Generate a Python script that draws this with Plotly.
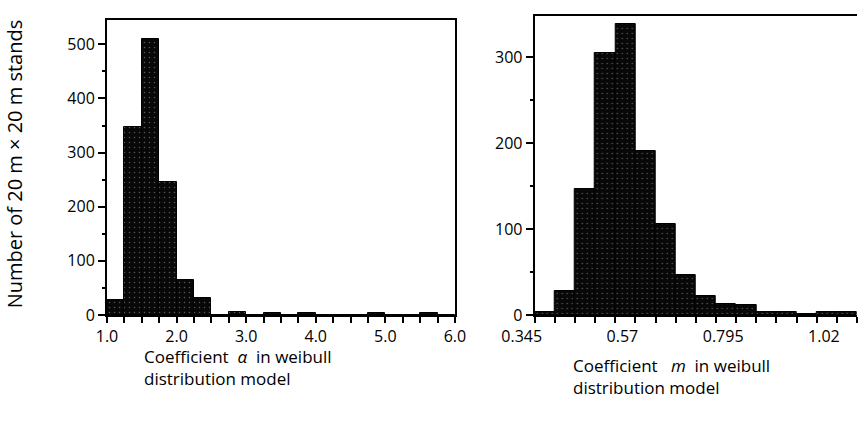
import plotly.graph_objects as go

# ---- data ----
alpha_bin_start = 1.0
alpha_bin_width = 0.25
alpha_counts = [28, 347, 510, 245, 65, 31, 0, 5, 0, 4, 0, 4, 0, 0, 0, 4, 0, 0, 4, 0]
alpha_tickvals = [1.0, 2.0, 3.0, 4.0, 5.0, 6.0]
alpha_ticktext = ["1.0", "2.0", "3.0", "4.0", "5.0", "6.0"]

m_bin_start = 0.345
m_bin_width = 0.045
m_counts = [3, 28, 147, 305, 339, 191, 106, 47, 22, 13, 12, 3, 3, 1, 4, 4]
m_tickvals = [0.345, 0.57, 0.795, 1.02]
m_ticktext = ["0.345", "0.57", "0.795", "1.02"]

y_title = "Number of 20 m × 20 m stands"

alpha_x = [alpha_bin_start + alpha_bin_width * (i + 0.5) for i in range(len(alpha_counts))]
m_x = [m_bin_start + m_bin_width * (i + 0.5) for i in range(len(m_counts))]

FONT = "Open Sans"
W, H = 868, 421
L, R, T, B = 107, 0, 16, 106
pw = W - L - R
ph = H - T - B

bar_marker = dict(
    color="#0b0b0b",
    line=dict(color="black", width=1),
    pattern=dict(shape=".", fgcolor="#aaaaaa", bgcolor="#080808", size=5, solidity=0.07),
)

fig = go.Figure()
fig.add_trace(go.Bar(x=alpha_x, y=alpha_counts, width=alpha_bin_width, marker=bar_marker,
                     xaxis="x", yaxis="y", showlegend=False))
fig.add_trace(go.Bar(x=m_x, y=m_counts, width=m_bin_width, marker=bar_marker,
                     xaxis="x2", yaxis="y2", showlegend=False))

left_end = (460 - L) / pw
right_start = (541 - L) / pw
left_top = (315 - 20) / ph

tickfont = dict(family=FONT, size=16, color="black")
axis_common = dict(showgrid=False, zeroline=False, showline=True, linecolor="black", linewidth=2,
                   ticks="outside", tickcolor="black", tickwidth=1.5, tickfont=tickfont)

fig.update_layout(
    width=W, height=H,
    margin=dict(l=L, r=R, t=T, b=B, pad=0),
    paper_bgcolor="white", plot_bgcolor="white",
    bargap=0,
    font=dict(family=FONT, color="black"),
    xaxis=dict(domain=[0, left_end], range=[1.0, 6.0], anchor="y", mirror=True,
               tickvals=alpha_tickvals, ticktext=alpha_ticktext, ticklen=6,
               minor=dict(dtick=0.25, tick0=1.0, ticks="outside", ticklen=6, tickcolor="black", tickwidth=1.5),
               **axis_common),
    yaxis=dict(domain=[0, left_top], range=[0, 545], anchor="x", mirror=True,
               dtick=100, ticklen=7,
               minor=dict(dtick=50, ticks="outside", ticklen=3, tickcolor="black", tickwidth=1.5),
               **axis_common),
    xaxis2=dict(domain=[right_start, 1.0], range=[0.345, 1.065], anchor="y2", mirror=True,
                tickvals=m_tickvals, ticktext=m_ticktext, ticklen=6, ticklabelshift=-13,
                minor=dict(dtick=0.045, tick0=0.345, ticks="outside", ticklen=6, tickcolor="black", tickwidth=1.5),
                **axis_common),
    yaxis2=dict(domain=[0, 1], range=[0, 348], anchor="x2", mirror=False,
                dtick=100, ticklen=7,
                minor=dict(dtick=50, ticks="outside", ticklen=3, tickcolor="black", tickwidth=1.5),
                **axis_common),
)

title_font = dict(family=FONT, size=17, color="black")
fig.add_annotation(text=y_title, xref="paper", yref="paper", x=(13 - L) / pw, y=(315 - 164) / ph,
                   xanchor="center", yanchor="middle", textangle=-90, showarrow=False,
                   font=dict(family=FONT, size=20, color="black"))
fig.add_annotation(text="Coefficient  <i>α</i>  in weibull<br>distribution model",
                   xref="paper", yref="paper", x=(143 - L) / pw, y=(315 - 343) / ph,
                   xanchor="left", yanchor="top", align="left", showarrow=False,
                   font=title_font)
fig.add_annotation(text="Coefficient   <i>m</i>  in weibull<br>distribution model",
                   xref="paper", yref="paper", x=(578 - L) / pw, y=(315 - 352) / ph,
                   xanchor="left", yanchor="top", align="left", showarrow=False,
                   font=title_font)

fig.write_html("out.html")
